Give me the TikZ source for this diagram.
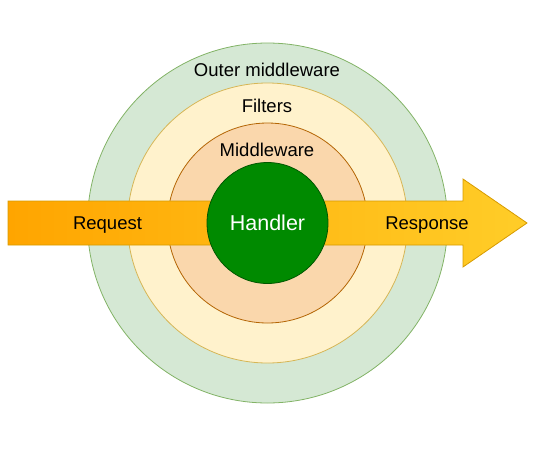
\documentclass[tikz,border=0pt]{standalone}
\usepackage{fontspec}
\setmainfont{Liberation Sans}
\begin{document}
\begin{tikzpicture}[x=1pt,y=-1pt,
  ring/.style={circle, inner sep=0pt, line width=0.8pt},
  lbl/.style={anchor=base, inner sep=0pt, font=\fontsize{18.5}{20}\selectfont, text=black}]
\definecolor{outerfill}{HTML}{D5E8D4}\definecolor{outerdraw}{HTML}{82B366}
\definecolor{filtfill}{HTML}{FFF2CC}\definecolor{filtdraw}{HTML}{D6B656}
\definecolor{midfill}{HTML}{FAD7AC}\definecolor{middraw}{HTML}{B46504}
\definecolor{handfill}{HTML}{008A00}\definecolor{handdraw}{HTML}{005700}
\definecolor{arrowA}{HTML}{FFA500}\definecolor{arrowB}{HTML}{FFCD28}
\definecolor{arrowdraw}{HTML}{D79B00}
\useasboundingbox (0,0) rectangle (550,451);
% concentric layers
\node[ring, minimum size=360pt, fill=outerfill, draw=outerdraw] (outer) at (267.5,223) {};
\node[ring, minimum size=280pt, fill=filtfill, draw=filtdraw] (filters) at (267.5,223) {};
\node[ring, minimum size=200pt, fill=midfill, draw=middraw] (middle) at (267.5,223) {};
% request / response arrow
\path[left color=arrowA, right color=arrowB, draw=arrowdraw, line width=0.8pt, line join=miter]
  (8,201) -- (463,201) -- (463,179) -- (527,223) -- (463,267) -- (463,245) -- (8,245) -- cycle;
% handler core
\node[ring, minimum size=121pt, fill=handfill, draw=handdraw] (handler) at (267.5,223) {};
% labels
\node[lbl] (outerlbl) at (267,76.5) {Outer middleware};
\node[lbl] (filtlbl) at (267,112.7) {Filters};
\node[lbl] (midlbl) at (267,156) {Middleware};
\node[lbl] (reqlbl) at (107.5,229.3) {Request};
\node[lbl] (resplbl) at (427,229.3) {Response};
\node[lbl, text=white, font=\fontsize{21.5}{23}\selectfont] (handlbl) at (267.5,230.7) {Handler};
\end{tikzpicture}
\end{document}
